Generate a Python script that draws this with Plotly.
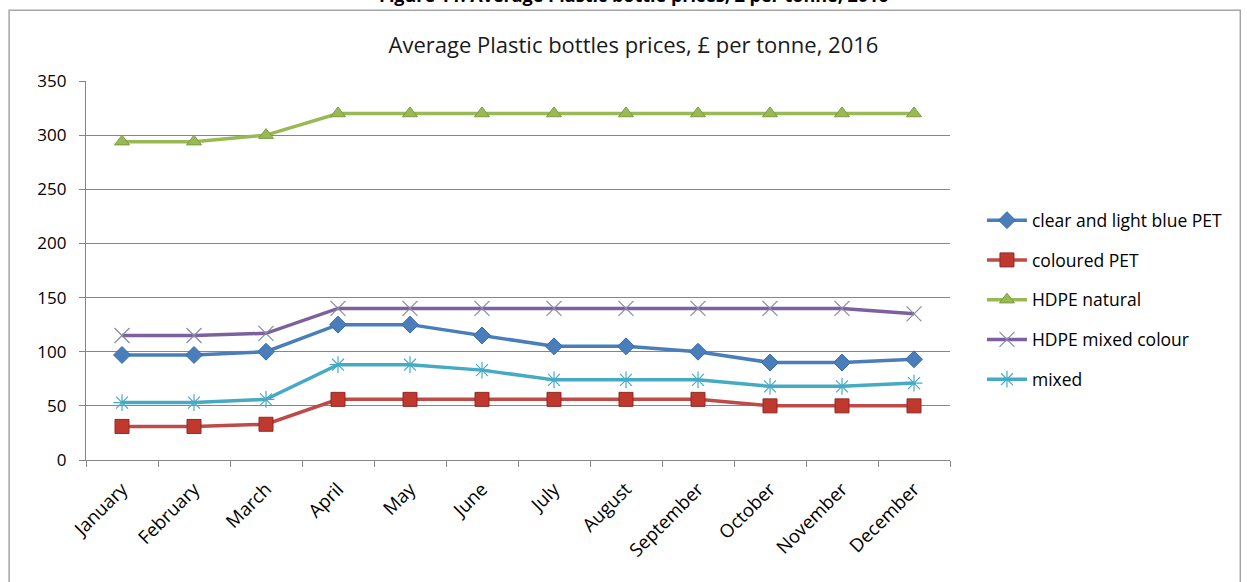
import plotly.graph_objects as go

months = ["January", "February", "March", "April", "May", "June", "July",
          "August", "September", "October", "November", "December"]

clear_pet = [97, 97, 100, 125, 125, 115, 105, 105, 100, 90, 90, 93]
coloured_pet = [31, 31, 33, 56, 56, 56, 56, 56, 56, 50, 50, 50]
hdpe_natural = [294, 294, 300, 320, 320, 320, 320, 320, 320, 320, 320, 320]
hdpe_mixed_colour = [115, 115, 117, 140, 140, 140, 140, 140, 140, 140, 140, 135]
mixed = [53, 53, 56, 88, 88, 83, 74, 74, 74, 68, 68, 71]

FONT = "Open Sans"

series = [
    ("clear and light blue PET", clear_pet, "#4A7EBB",
     dict(symbol="diamond", size=13, color="#4A7EBB", line=dict(width=1, color="#3A6BA5"))),
    ("coloured PET", coloured_pet, "#BE4B48",
     dict(symbol="square", size=14, color="#C0392F", line=dict(width=1, color="#8E2A27"))),
    ("HDPE natural", hdpe_natural, "#98B954",
     dict(symbol="triangle-up", size=13, color="#98B954", line=dict(width=1, color="#7E9B40"))),
    ("HDPE mixed colour", hdpe_mixed_colour, "#7D60A0",
     dict(symbol="x-thin", size=15, color="#7D60A0", line=dict(width=1.2, color="#8A8AA0"))),
    ("mixed", mixed, "#46AAC5",
     dict(symbol="asterisk", size=14, color="#46AAC5", line=dict(width=1.2, color="#46AAC5"))),
]

fig = go.Figure()
for name, vals, col, mk in series:
    fig.add_trace(go.Scatter(
        x=months, y=vals, name=name, legendgroup=name, mode="lines+markers",
        line=dict(color=col, width=3.5), marker=mk,
    ))

# outer chart frame
fig.add_shape(type="rect", xref="paper", yref="paper",
              x0=-0.089, x1=1.336, y0=-0.6, y1=1.187,
              line=dict(color="#A6A6A6", width=1.5), layer="below")

fig.add_annotation(
    text="<b>Figure 11: Average Plastic bottle prices, £ per tonne, 2016</b>",
    xref="paper", yref="paper", x=0.634, y=1.19, xanchor="center", yanchor="bottom",
    showarrow=False, font=dict(family=FONT, size=18, color="#000000"),
)

fig.update_layout(
    width=1247, height=582,
    margin=dict(l=86, r=297, t=81, b=122),
    paper_bgcolor="white", plot_bgcolor="white",
    font=dict(family=FONT, size=15, color="#000000"),
    title=dict(text="Average Plastic bottles prices, £ per tonne, 2016",
               x=0.508, xanchor="center", y=0.922, yanchor="middle",
               font=dict(family=FONT, size=22, color="#1a1a1a")),
    legend=dict(x=1.037, y=0.68, xanchor="left", yanchor="top",
                font=dict(family=FONT, size=17.5, color="#000000"),
                tracegroupgap=14, itemwidth=40, bgcolor="rgba(0,0,0,0)"),
    showlegend=True,
)

fig.update_xaxes(
    type="category", range=[-0.5, 11.5], tickangle=-45, tickson="boundaries",
    ticks="outside", ticklen=6, tickcolor="#868686", ticklabelstandoff=10,
    showline=True, linecolor="#868686", linewidth=1.2,
    showgrid=False, tickfont=dict(family=FONT, size=18.5, color="#000000"),
)
fig.update_yaxes(
    range=[0, 350], tick0=0, dtick=50,
    ticks="outside", ticklen=6, tickcolor="#868686", ticklabelstandoff=9,
    showline=True, linecolor="#868686", linewidth=1.2,
    showgrid=True, gridcolor="#868686", gridwidth=1,
    zeroline=False, tickfont=dict(family=FONT, size=17, color="#000000"),
)

fig.write_html("out.html")
